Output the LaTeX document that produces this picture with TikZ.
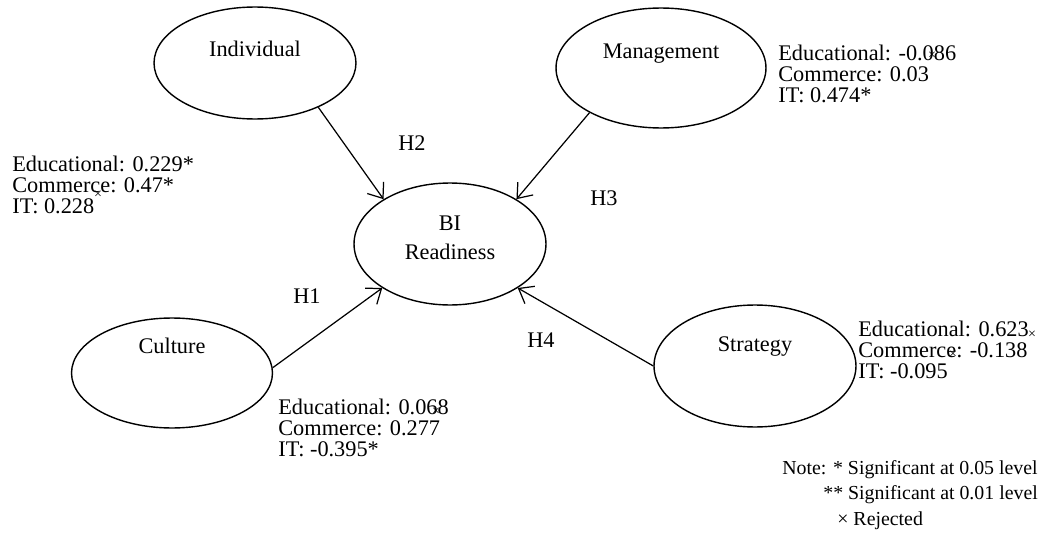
\documentclass[tikz,border=0pt]{standalone}
\usepackage{fontspec}
\setmainfont{Liberation Serif}
\usetikzlibrary{shapes,arrows.meta}
\tikzset{>={Straight Barb[width=4.0mm,length=2.6mm]}}

\begin{document}
\begin{tikzpicture}[x=0.02cm,y=-0.02cm]
          \tikzstyle{cnode} = [draw=black, ellipse, line width=0.8pt, inner sep=0pt]
          \tikzstyle{lbl} = [inner sep=0pt, font=\fontsize{12.7}{12}\selectfont]
          \tikzstyle{dat} = [lbl, align=left, anchor=west]
          \tikzstyle{rej} = [inner sep=0pt, font=\fontsize{8}{8}\selectfont]
          \tikzstyle{note} = [inner sep=0pt, anchor=west, font=\fontsize{11.3}{12}\selectfont]

          \useasboundingbox (0,0) rectangle (1039,534);

          % constructs
          \node[cnode, minimum width=4.04cm, minimum height=2.24cm] (indv) at (255,63) {};
          \node[cnode, minimum width=4.20cm, minimum height=2.40cm] (mgmt) at (661,68) {};
          \node[cnode, minimum width=3.84cm, minimum height=2.44cm] (bir) at (450,244) {};
          \node[cnode, minimum width=4.02cm, minimum height=2.20cm] (cult) at (172,373) {};
          \node[cnode, minimum width=4.04cm, minimum height=2.44cm] (strat) at (755,366) {};

          \node[lbl] (indvt) at (255,49) {Individual};
          \node[lbl] (mgmtt) at (661,54) {Management};
          \node[lbl, align=center, font=\fontsize{12.7}{16.5}\selectfont] (birt) at (450,238) {BI\\Readiness};
          \node[lbl] (cultt) at (172,346) {Culture};
          \node[lbl] (stratt) at (755,347) {Strategy};

          % hypotheses
          \draw[->, line width=0.7pt] (indv.-35) -- (bir.146);
          \draw[->, line width=0.7pt] (mgmt.-148) -- (bir.34);
          \draw[->, line width=0.7pt] (cult.3) -- (bir.-147);
          \draw[->, line width=0.7pt] (strat.180) -- (bir.-33);

          \node[lbl] (h2) at (412,143) {H2};
          \node[lbl] (h3) at (604,198) {H3};
          \node[lbl] (h1) at (307,296) {H1};
          \node[lbl] (h4) at (541,340) {H4};

          % path coefficients
          \node[dat] (indvc) at (12,185) {Educational: 0.229*\\Commerce: 0.47*\\IT: 0.228};
          \node[dat] (mgmtc) at (778,74) {Educational: -0.086\\Commerce: 0.03\\IT: 0.474*};
          \node[dat] (stratc) at (858,350) {Educational: 0.623\\Commerce: -0.138\\IT: -0.095};
          \node[dat] (cultc) at (278,428) {Educational: 0.068\\Commerce: 0.277\\IT: -0.395*};

          \node[rej] (x1) at (98,195) {×};
          \node[rej] (x2) at (932,56) {×};
          \node[rej] (x3) at (1032,335) {×};
          \node[rej] (x4) at (953,355) {×};
          \node[rej] (x5) at (436,412) {×};

          % note
          \node[note] (note1) at (782,470) {Note: * Significant at 0.05 level};
          \node[note] (note2) at (823,495) {** Significant at 0.01 level};
          \node[note] (note3) at (837,521) {× Rejected};
        \end{tikzpicture}
\end{document}
